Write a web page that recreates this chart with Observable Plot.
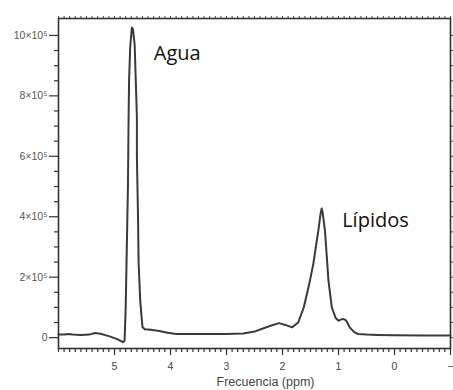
<!DOCTYPE html>
<html>
<head>
<meta charset="utf-8">
<script src="https://cdn.jsdelivr.net/npm/d3@7"></script>
<script src="https://cdn.jsdelivr.net/npm/@observablehq/plot@0.6"></script>
<style>
  html, body { margin: 0; padding: 0; background: #fff; }
  #chart svg { display: block; }
</style>
</head>
<body>
<div id="chart"></div>
<script>
// Chemical shift (ppm) and signal intensity (in units of 10^5)
const ppm = [6.0, 5.9, 5.82, 5.75, 5.6, 5.45, 5.35, 5.25, 5.1, 4.95, 4.85, 4.82, 4.80, 4.78, 4.76, 4.75, 4.74, 4.72, 4.69, 4.67, 4.64, 4.62, 4.60, 4.60, 4.58, 4.57, 4.54, 4.50, 4.46, 4.35, 4.2, 4.05, 3.9, 3.5, 3.0, 2.7, 2.5, 2.35, 2.2, 2.06, 1.95, 1.83, 1.72, 1.62, 1.52, 1.45, 1.36, 1.32, 1.30, 1.28, 1.24, 1.18, 1.12, 1.05, 1.0, 0.92, 0.87, 0.80, 0.72, 0.65, 0.5, 0.3, 0.0, -0.5, -1.0];
const intensity = [0.10, 0.10, 0.12, 0.10, 0.09, 0.10, 0.15, 0.13, 0.05, -0.05, -0.15, -0.10, 1.0, 3.0, 5.0, 7.0, 8.5, 9.6, 10.26, 10.2, 9.7, 8.5, 7.3, 6.0, 4.0, 2.5, 1.2, 0.35, 0.28, 0.26, 0.22, 0.16, 0.12, 0.12, 0.12, 0.14, 0.2, 0.3, 0.4, 0.48, 0.42, 0.34, 0.5, 1.0, 1.8, 2.44, 3.54, 4.1, 4.27, 4.1, 3.5, 1.9, 1.0, 0.65, 0.56, 0.62, 0.58, 0.34, 0.18, 0.12, 0.1, 0.09, 0.08, 0.07, 0.07];

const yTicks = [0, 2, 4, 6, 8, 10];
const yTickLabels = ["0", "2×10⁵", "4×10⁵", "6×10⁵", "8×10⁵", "10×10⁵"];
const xTicks = [5, 4, 3, 2, 1, 0, -1];
const xTickLabels = ["5", "4", "3", "2", "1", "0", "−"];
const xTitle = "Frecuencia (ppm)";

const annotations = ["Agua", "Lípidos"];
const annotationPpm = [3.88, 0.34];
const annotationValue = [9.4, 3.87];

const data = ppm.map((p, i) => ({ppm: p, value: intensity[i]}));
const notes = annotations.map((t, i) => ({text: t, ppm: annotationPpm[i], value: annotationValue[i]}));

const xAll = d3.range(-10, 61).map(d => d / 10);
const xMinor = xAll.filter(d => !xTicks.includes(d));
const yMinor = d3.range(0, 21).map(d => d / 2).filter(d => !yTicks.includes(d));

const chart = Plot.plot({
  width: 453,
  height: 390,
  marginLeft: 58,
  marginRight: 3,
  marginTop: 18,
  marginBottom: 42,
  style: {fontFamily: "Liberation Sans, Arial, sans-serif", background: "#fff"},
  x: {domain: [6, -1], label: null},
  y: {domain: [-0.36, 10.56], label: null},
  marks: [
    // top and right minor ticks
    Plot.axisX(xAll, {anchor: "top", tickSize: 3, tickFormat: () => "", stroke: "#444", label: null}),
    Plot.axisY(yMinor.concat(yTicks), {anchor: "right", tickSize: 3, tickFormat: () => "", stroke: "#444", label: null}),
    // bottom axis
    Plot.axisX(xMinor, {anchor: "bottom", tickSize: 4, tickFormat: () => "", stroke: "#333", strokeWidth: 1.2, label: null}),
    Plot.axisX(xTicks, {anchor: "bottom", tickSize: 7, tickPadding: 7, tickFormat: d => xTickLabels[xTicks.indexOf(d)], stroke: "#333", strokeWidth: 1.2, fill: "#444", fontSize: 10.5, label: null}),
    // left axis
    Plot.axisY(yMinor, {anchor: "left", tickSize: 4, tickFormat: () => "", stroke: "#333", strokeWidth: 1.2, label: null}),
    Plot.axisY(yTicks, {anchor: "left", tickSize: 9, tickPadding: 2, tickFormat: d => yTickLabels[yTicks.indexOf(d)], stroke: "#333", strokeWidth: 1.2, fill: "#555", fontSize: 10.5, label: null}),
    Plot.frame({stroke: "#333", strokeWidth: 1.6}),
    Plot.line(data, {x: "ppm", y: "value", stroke: "#3a3a3a", strokeWidth: 2, curve: "linear"}),
    Plot.text(notes, {x: "ppm", y: "value", text: "text", fontSize: 20, fill: "#111", fontFamily: "Open Sans, sans-serif"}),
    Plot.text([xTitle], {frameAnchor: "bottom", dx: 11, dy: 37, fontSize: 12.5, fill: "#444"})
  ]
});

document.getElementById("chart").appendChild(chart);
</script>
</body>
</html>
